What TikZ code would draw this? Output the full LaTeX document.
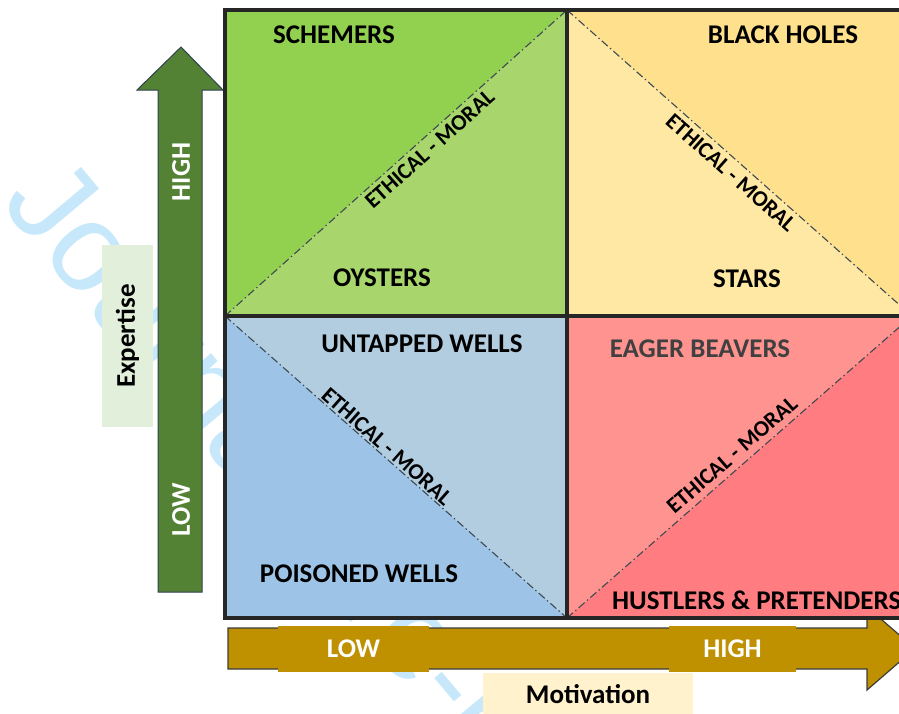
\documentclass[tikz,border=0pt]{standalone}
\usepackage{fontspec}
\setmainfont{Carlito}
\newfontfamily\markfont{Liberation Sans}

\definecolor{schemers}{HTML}{92D050}
\definecolor{oysters}{HTML}{A9D66C}
\definecolor{blackholes}{HTML}{FFE08C}
\definecolor{stars}{HTML}{FFE8A3}
\definecolor{untapped}{HTML}{B2CDE0}
\definecolor{poisoned}{HTML}{9DC3E6}
\definecolor{eager}{HTML}{FF938F}
\definecolor{hustlers}{HTML}{FF7C80}
\definecolor{arrowgreen}{HTML}{548235}
\definecolor{arrowgold}{HTML}{BF9000}
\definecolor{expbox}{HTML}{E2EFDA}
\definecolor{motbox}{HTML}{FFF2CC}
\definecolor{gridline}{HTML}{262626}
\definecolor{divider}{HTML}{3E4A52}
\definecolor{markblue}{HTML}{C6E8FA}

\begin{document}
\begin{tikzpicture}[x=1pt,y=-1pt,
  quadlabel/.style={font=\fontsize{27}{30}\selectfont\bfseries, text=black, inner sep=0pt},
  diaglabel/.style={font=\fontsize{22.5}{26}\selectfont\bfseries, text=black, sloped},
  divline/.style={draw=divider, line width=1.1pt, dash pattern=on 8pt off 3pt on 1.5pt off 3pt},
  gridframe/.style={draw=gridline, line width=3.5pt},
  arrowlabel/.style={font=\fontsize{27}{30}\selectfont\bfseries, text=white, inner sep=0pt},
  axisbox/.style={font=\fontsize{27}{30}\selectfont\bfseries, text=black, inner sep=0pt}
]
\useasboundingbox (0,0) rectangle (899,713);
\clip (0,0) rectangle (899,713);

% faint watermark behind everything
\node[rotate=-50, anchor=base west, inner sep=0pt, text=markblue,
      font=\markfont\fontsize{125}{125}\selectfont] (mark) at (-1,203) {Journal Pre-proof};

% grid corners
\coordinate (tl) at (225,10);
\coordinate (tm) at (567,10);
\coordinate (tr) at (912,10);
\coordinate (ml) at (225,316);
\coordinate (mm) at (567,316);
\coordinate (mr) at (912,316);
\coordinate (bl) at (225,618);
\coordinate (bm) at (567,618);
\coordinate (br) at (912,618);

% motivation arrow (drawn first so the grid covers its upper barb)
\fill[arrowgold, draw=gridline!90, line width=1.2pt]
  (228,628) -- (867,628) -- (867,607) -- (915,648.5) -- (867,690) -- (867,669) -- (228,669) -- cycle;
\node[arrowlabel, fill=arrowgold, minimum width=151pt, minimum height=46pt] (mlow) at (353.5,648.5) {LOW};
\node[arrowlabel, fill=arrowgold, minimum width=127pt, minimum height=46pt] (mhigh) at (732.5,648.5) {HIGH};

% expertise arrow
\fill[arrowgreen, draw={rgb,255:red,47;green,64;blue,80}, line width=1pt]
  (158,592) -- (158,90) -- (137,90) -- (181,47) -- (223,90) -- (202,90) -- (202,592) -- cycle;
\node[arrowlabel, rotate=90] (ehigh) at (181,172) {HIGH};
\node[arrowlabel, rotate=90] (elow) at (181,510) {LOW};

% axis captions
\node[axisbox, fill=expbox, rotate=90, minimum width=182pt, minimum height=51pt] (expertise) at (127.5,336) {Expertise};
\node[axisbox, fill=motbox, minimum width=210pt, minimum height=42pt] (motivation) at (588,694) {Motivation};

% quadrant halves
\fill[schemers]   (tl) -- (tm) -- (ml) -- cycle;
\fill[oysters]    (tm) -- (mm) -- (ml) -- cycle;
\fill[blackholes] (tm) -- (tr) -- (mr) -- cycle;
\fill[stars]      (tm) -- (mr) -- (mm) -- cycle;
\fill[untapped]   (ml) -- (mm) -- (bm) -- cycle;
\fill[poisoned]   (ml) -- (bm) -- (bl) -- cycle;
\fill[eager]      (mm) -- (mr) -- (bm) -- cycle;
\fill[hustlers]   (mr) -- (br) -- (bm) -- cycle;

% ethical-moral dividers
\draw[divline] (ml) -- node[diaglabel, below, pos=.575, inner sep=4pt] (d1) {ETHICAL - MORAL} (tm);
\draw[divline] (tm) -- node[diaglabel, below, pos=.5, inner sep=5pt] (d2) {ETHICAL - MORAL} (mr);
\draw[divline] (ml) -- node[diaglabel, above, pos=.455, inner sep=1.5pt] (d3) {ETHICAL - MORAL} (bm);
\draw[divline] (bm) -- node[diaglabel, above, pos=.505, inner sep=6pt] (d4) {ETHICAL - MORAL} (mr);

% grid frame
\draw[gridframe] (tl) rectangle (br);
\draw[gridframe] (tm) -- (bm);
\draw[gridframe] (ml) -- (mr);

% quadrant names
\node[quadlabel] (schem) at (334,35) {SCHEMERS};
\node[quadlabel] (oyst) at (382,278) {OYSTERS};
\node[quadlabel] (bhole) at (783,35) {BLACK HOLES};
\node[quadlabel] (star) at (747,279) {STARS};
\node[quadlabel] (untap) at (422,344) {UNTAPPED WELLS};
\node[quadlabel] (poison) at (359,574) {POISONED WELLS};
\node[quadlabel, text={rgb,255:red,64;green,64;blue,64}] (eager) at (700,349) {EAGER BEAVERS};
\node[quadlabel, anchor=west] (hustle) at (612,600) {HUSTLERS \& PRETENDERS};
\end{tikzpicture}
\end{document}
